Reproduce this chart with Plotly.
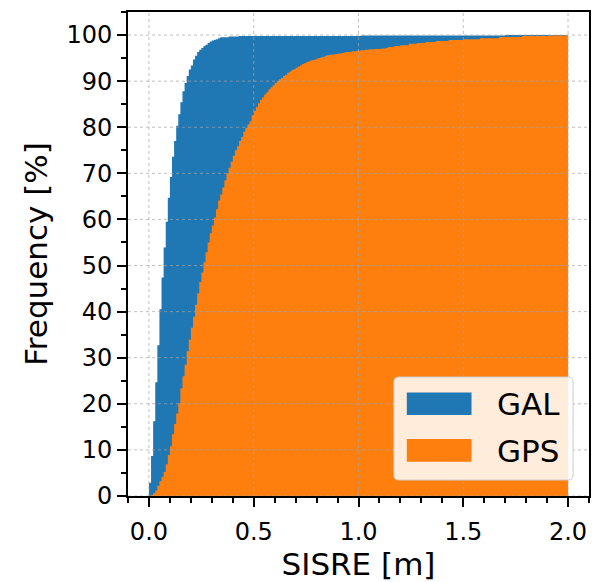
import numpy as np
import plotly.graph_objects as go

# ---------------- data (cumulative frequency in %, bins of 0.01 m from 0 to 2 m) ----------------
BIN_WIDTH = 0.01
SERIES_NAMES = ["GAL", "GPS"]

GAL_PCT = [
    2.9, 8.7, 16.2, 24.7, 32.7, 40.5, 47.4, 53.9, 59.5, 64.7,
    69.2, 73.6, 77.0, 80.3, 82.8, 85.4, 87.8, 89.6, 91.1, 92.5,
    93.4, 94.7, 95.5, 96.3, 96.8, 97.2, 97.6, 97.9, 98.3, 98.6,
    98.8, 99.0, 99.1, 99.3, 99.5, 99.5, 99.5, 99.5, 99.7, 99.7,
    99.7, 99.7, 99.7, 99.8, 99.8, 99.8, 99.8, 99.8, 99.8, 99.8,
    99.8, 99.8, 99.8, 99.8, 99.8, 99.8, 99.8, 99.8, 99.8, 99.8,
    99.8, 99.8, 99.8, 99.8, 99.8, 99.8, 99.8, 99.8, 99.8, 99.8,
    99.8, 99.8, 99.8, 99.8, 99.8, 99.8, 99.8, 99.8, 99.8, 99.8,
    99.8, 99.8, 99.8, 99.8, 99.8, 99.8, 99.8, 99.8, 99.8, 99.8,
    99.8, 99.8, 99.8, 99.8, 99.8, 99.8, 99.8, 99.8, 99.8, 99.8,
    99.8, 99.9, 99.9, 99.9, 99.9, 99.9, 99.9, 99.9, 99.9, 99.9,
    99.9, 99.9, 99.9, 99.9, 99.9, 99.9, 99.9, 99.9, 99.9, 99.9,
    99.9, 99.9, 99.9, 99.9, 99.9, 99.9, 99.9, 99.9, 99.9, 99.9,
    99.9, 99.9, 99.9, 99.9, 99.9, 99.9, 99.9, 99.9, 99.9, 99.9,
    99.9, 99.9, 99.9, 99.9, 99.9, 99.9, 99.9, 99.9, 99.9, 99.9,
    99.9, 99.9, 99.9, 99.9, 99.9, 99.9, 99.9, 99.9, 99.9, 99.9,
    99.9, 99.9, 99.9, 99.9, 99.9, 99.9, 99.9, 99.9, 99.9, 99.9,
    100.0, 100.0, 100.0, 100.0, 100.0, 100.0, 100.0, 100.0, 100.0, 100.0,
    100.0, 100.0, 100.0, 100.0, 100.0, 100.0, 100.0, 100.0, 100.0, 100.0,
    100.0, 100.0, 100.0, 100.0, 100.0, 100.0, 100.0, 100.0, 100.0, 100.0,
]

GPS_PCT = [
    0.05, 0.2, 0.6, 1.2, 2.2, 3.2, 4.1, 5.2, 6.9, 8.9,
    10.8, 13.4, 15.6, 17.9, 20.1, 23.4, 26.0, 28.5, 31.4, 33.9,
    36.5, 38.9, 41.5, 44.0, 46.4, 48.5, 50.7, 52.9, 55.0, 57.0,
    58.7, 60.4, 62.2, 64.1, 65.4, 66.9, 68.5, 70.0, 71.2, 72.5,
    73.8, 75.0, 75.9, 77.0, 77.9, 79.0, 79.9, 80.6, 81.3, 82.6,
    83.5, 84.4, 85.2, 85.9, 86.5, 87.1, 87.6, 88.2, 88.7, 89.1,
    89.6, 90.0, 90.4, 90.7, 91.1, 91.4, 91.8, 92.1, 92.4, 92.6,
    92.9, 93.2, 93.4, 93.7, 93.9, 94.1, 94.3, 94.5, 94.6, 94.7,
    94.9, 95.0, 95.2, 95.3, 95.5, 95.6, 95.7, 95.8, 95.8, 95.9,
    96.0, 96.0, 96.1, 96.2, 96.3, 96.3, 96.4, 96.5, 96.5, 96.6,
    96.6, 96.7, 96.7, 96.8, 96.8, 96.9, 96.9, 96.9, 97.0, 97.0,
    97.0, 97.1, 97.1, 97.2, 97.4, 97.4, 97.4, 97.6, 97.6, 97.6,
    97.8, 97.8, 97.8, 97.8, 98.1, 98.1, 98.1, 98.1, 98.3, 98.3,
    98.3, 98.3, 98.5, 98.5, 98.5, 98.5, 98.5, 98.7, 98.7, 98.7,
    98.7, 98.7, 98.7, 98.9, 98.9, 98.9, 98.9, 98.9, 98.9, 98.9,
    99.1, 99.1, 99.1, 99.1, 99.1, 99.1, 99.1, 99.1, 99.3, 99.3,
    99.3, 99.3, 99.3, 99.3, 99.3, 99.3, 99.3, 99.6, 99.6, 99.6,
    99.6, 99.6, 99.6, 99.6, 99.6, 99.6, 99.6, 99.6, 99.8, 99.8,
    99.8, 99.8, 99.8, 99.8, 99.8, 99.8, 99.8, 99.8, 99.8, 99.8,
    99.8, 99.9, 99.9, 99.9, 99.9, 99.9, 99.9, 99.9, 99.9, 100.0,
]

X_TICKS = [0.0, 0.5, 1.0, 1.5, 2.0]
X_TICK_LABELS = ["0.0", "0.5", "1.0", "1.5", "2.0"]
Y_TICKS = [0, 10, 20, 30, 40, 50, 60, 70, 80, 90, 100]
Y_TICK_LABELS = [str(v) for v in Y_TICKS]

COLORS = ["#1f77b4", "#ff7f0e"]
FONT = "DejaVu Sans"

# ---------------- figure geometry ----------------
W, H = 598, 582
ML, MR, MT, MB = 128, 7, 12, 86
PW, PH = W - ML - MR, H - MT - MB


def px_to_paper(px, py):
    return (px - ML) / PW, (H - MB - py) / PH


edges = np.round(np.arange(len(GAL_PCT) + 1) * BIN_WIDTH, 4)

fig = go.Figure()
for name, vals, col in zip(SERIES_NAMES, [GAL_PCT, GPS_PCT], COLORS):
    ys = list(vals) + [vals[-1]]
    fig.add_trace(go.Scatter(
        x=edges, y=ys, mode="lines", line=dict(shape="hv", width=0, color=col),
        fill="tozeroy", fillcolor=col, name=name, showlegend=False, hoverinfo="skip",
    ))

shapes = []
grid_style = dict(color="rgba(165,165,165,0.7)", width=1, dash="dot")
for t in X_TICKS:
    shapes.append(dict(type="line", xref="x", yref="paper", x0=t, x1=t, y0=0, y1=1,
                       layer="above", line=grid_style))
for t in Y_TICKS:
    shapes.append(dict(type="line", xref="paper", yref="y", x0=0, x1=1, y0=t, y1=t,
                       layer="above", line=grid_style))


def rounded_rect(px0, py0, px1, py1, r):
    # pixel box -> paper path with rounded corners
    rx, ry = r / PW, r / PH
    x0, y0 = px_to_paper(px0, py1)
    x1, y1 = px_to_paper(px1, py0)
    return (f"M {x0+rx},{y0} L {x1-rx},{y0} Q {x1},{y0} {x1},{y0+ry} "
            f"L {x1},{y1-ry} Q {x1},{y1} {x1-rx},{y1} L {x0+rx},{y1} "
            f"Q {x0},{y1} {x0},{y1-ry} L {x0},{y0+ry} Q {x0},{y0} {x0+rx},{y0} Z")


# legend (drawn manually to mimic matplotlib patches)
shapes.append(dict(type="path", xref="paper", yref="paper",
                   path=rounded_rect(395, 377, 575, 480, 5), layer="above",
                   fillcolor="rgba(255,255,255,0.85)", line=dict(color="#cccccc", width=1)))
annotations = []
patch_rows = [(392.5, 415.0, 403.5), (439.0, 461.7, 450.5)]
for name, col, (py0, py1, pyc) in zip(SERIES_NAMES, COLORS, patch_rows):
    x0, y0 = px_to_paper(408, py1)
    x1, y1 = px_to_paper(473, py0)
    shapes.append(dict(type="rect", xref="paper", yref="paper", x0=x0, x1=x1, y0=y0, y1=y1,
                       layer="above", fillcolor=col, line=dict(width=0)))
    tx, ty = px_to_paper(497, pyc)
    annotations.append(dict(xref="paper", yref="paper", x=tx, y=ty, text=name, showarrow=False,
                            xanchor="left", yanchor="middle",
                            font=dict(family=FONT, size=31, color="black")))

axis_common = dict(showline=True, linewidth=2, linecolor="black", mirror=True,
                   showgrid=False, zeroline=False, ticks="outside", ticklen=9, tickwidth=1.5,
                   tickcolor="black", tickfont=dict(family=FONT, size=24, color="black"))

fig.update_layout(
    width=W, height=H,
    margin=dict(l=ML, r=MR, t=MT, b=MB, pad=0),
    paper_bgcolor="white", plot_bgcolor="white",
    shapes=shapes, annotations=annotations,
    xaxis=dict(range=[-0.1, 2.1], tickmode="array", tickvals=X_TICKS, ticktext=X_TICK_LABELS,
               ticklabelstandoff=4,
               minor=dict(dtick=0.1, tick0=0, ticks="outside", ticklen=5, tickwidth=1.5,
                          tickcolor="black", showgrid=False),
               title=dict(text="SISRE [m]", font=dict(family=FONT, size=31, color="black"),
                          standoff=6),
               **axis_common),
    yaxis=dict(range=[0, 105], tickmode="array", tickvals=Y_TICKS, ticktext=Y_TICK_LABELS,
               minor=dict(dtick=5, tick0=0, ticks="outside", ticklen=5, tickwidth=1.5,
                          tickcolor="black", showgrid=False),
               title=dict(text="Frequency [%]", font=dict(family=FONT, size=31, color="black"),
                          standoff=10),
               **axis_common),
)

fig.write_html("out.html")
